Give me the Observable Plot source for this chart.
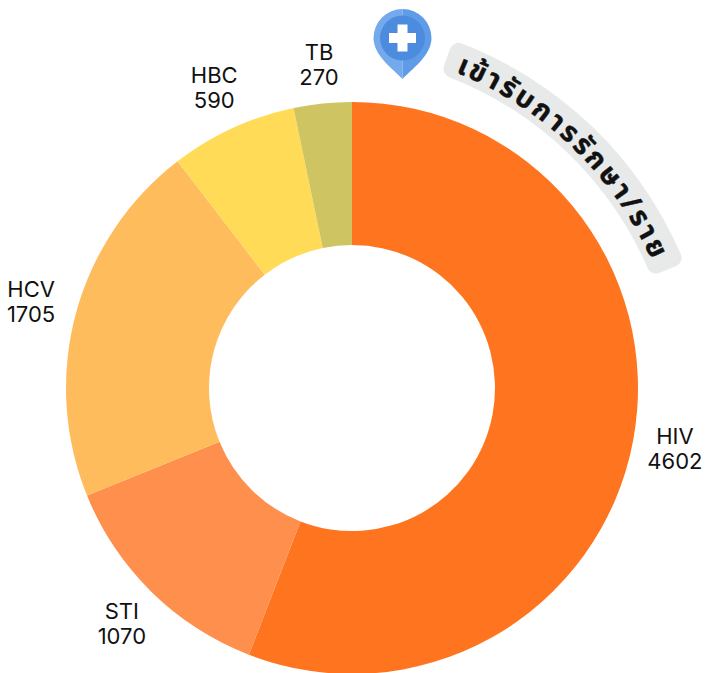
<!DOCTYPE html>
<html>
<head>
<meta charset="utf-8">
<script src="https://cdn.jsdelivr.net/npm/d3@7"></script>
<script src="https://cdn.jsdelivr.net/npm/@observablehq/plot@0.6"></script>
<style>
html,body{margin:0;padding:0;background:#fff;overflow:hidden}
svg{display:block}
</style>
</head>
<body>
<div id="chart"></div>
<script>
const categories = ["HIV", "STI", "HCV", "HBC", "TB"];
const values = [4602, 1070, 1705, 590, 270];
const colors = ["#ff751f", "#ff8f4d", "#ffbc5c", "#ffdb57", "#cfc462"];
const bannerText = "เข้ารับการรักษา/ราย";

const outerR = 286, innerR = 143;
const labelRadii = [328, 329, 333, 331, 326];
const font = "Inter, 'Noto Sans', sans-serif";

const slices = d3.pie().sort(null).value(d => d.value)(
  categories.map((name, i) => ({name, value: values[i]}))
).map((s, i) => {
  const mid = (s.startAngle + s.endAngle) / 2;
  return {name: s.data.name, value: s.data.value, startAngle: s.startAngle, endAngle: s.endAngle,
          lx: labelRadii[i] * Math.sin(mid), ly: labelRadii[i] * Math.cos(mid)};
});

function drawSlices(index, scales, values, dimensions) {
  const cx = scales.x(0), cy = scales.y(0);
  const arc = d3.arc().innerRadius(innerR).outerRadius(outerR);
  const g = d3.create("svg:g").attr("transform", `translate(${cx},${cy})`);
  for (const i of index) {
    g.append("path").attr("d", arc(slices[i])).attr("fill", values.fill[i]);
  }
  return g.node();
}

function drawBanner(index, scales) {
  const cx = scales.x(-32), cy = scales.y(-22);
  const rad = d => d * Math.PI / 180;
  const g = d3.create("svg:g").attr("transform", `translate(${cx},${cy})`);
  g.append("path")
    .attr("d", d3.arc().innerRadius(357).outerRadius(393).cornerRadius(9)
      .startAngle(rad(19.8)).endAngle(rad(68))())
    .attr("fill", "#e8eaea");
  const r = 364, a0 = rad(18), a1 = rad(70);
  g.append("defs").append("path").attr("id", "bannerArc")
    .attr("d", `M${r*Math.sin(a0)},${-r*Math.cos(a0)}A${r},${r} 0 0 1 ${r*Math.sin(a1)},${-r*Math.cos(a1)}`);
  g.append("text")
    .attr("font-family", "'Noto Sans Thai','Noto Sans','DejaVu Sans',sans-serif")
    .attr("font-size", 28).attr("font-weight", 700).attr("fill", "#111")
    .attr("stroke", "#111").attr("stroke-width", 0.4)
    .attr("letter-spacing", 3)
    .attr("text-anchor", "middle")
    .append("textPath").attr("href", "#bannerArc").attr("startOffset", "50%")
    .text(bannerText);
  return g.node();
}

function drawPin(index, scales) {
  const g = d3.create("svg:g").attr("transform", `translate(${scales.x(50.5)},${scales.y(350)})`);
  g.append("path").attr("d", "M0,41 C-8,32 -29,18 -29,0 A29,29 0 0 1 0,-29 Z").attr("fill", "#74a9ec");
  g.append("path").attr("d", "M0,41 C8,32 29,18 29,0 A29,29 0 0 0 0,-29 Z").attr("fill", "#5e9ce8");
  g.append("circle").attr("r", 22.5).attr("fill", "#4c8bdd");
  g.append("path").attr("d", "M-13.5,-5 H-5 V-13.5 H5 V-5 H13.5 V5 H5 V13.5 H-5 V5 H-13.5 Z").attr("fill", "#fff");
  return g.node();
}

const plot = Plot.plot({
  width: 705,
  height: 673,
  margin: 0,
  style: {background: "#fff", overflow: "hidden"},
  x: {domain: [-352, 353], range: [0, 705], axis: null},
  y: {domain: [388, -285], range: [0, 673], axis: null},
  color: {domain: categories, range: colors},
  marks: [
    Plot.dot(slices, {x: () => 0, y: () => 0, fill: "name", render: drawSlices}),
    Plot.text(slices, {
      x: "lx", y: "ly",
      text: d => `${d.name}\n${d.value}`,
      fontSize: 22, lineHeight: 1.14, fontFamily: font, fill: "#111", textAnchor: "middle"
    }),
    drawBanner,
    drawPin
  ]
});
document.getElementById("chart").appendChild(plot);
</script>
</body>
</html>
